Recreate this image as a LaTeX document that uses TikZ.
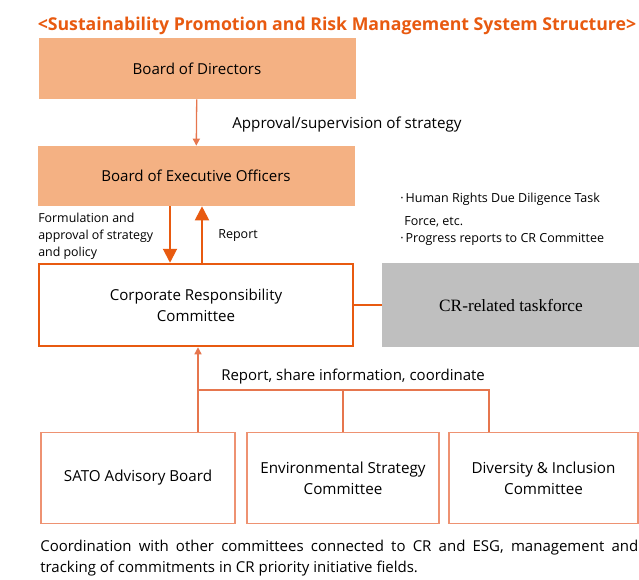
\documentclass[tikz,border=0pt]{standalone}
\usepackage{fontspec}
\setmainfont{Open Sans}
\newfontfamily\taskfont{Liberation Serif}
\usetikzlibrary{arrows.meta, positioning}

\definecolor{salmon}{HTML}{F4B183}
\definecolor{crorange}{HTML}{E85A10}
\definecolor{linkorange}{HTML}{E6764E}
\definecolor{unitorange}{HTML}{EE9272}
\definecolor{taskgray}{HTML}{BFBFBF}

\begin{document}
\begin{tikzpicture}[x=1pt,y=-1pt,>=Triangle,semithick,inner sep=0pt]
		\tikzstyle{board}=[fill=salmon,draw=none,minimum width=317pt,minimum height=60pt,font=\fontsize{15.1}{18}\selectfont]
		\tikzstyle{crbox}=[draw=crorange,line width=2.5pt,fill=white,minimum width=314pt,minimum height=82pt,align=center,font=\fontsize{15.1}{21}\selectfont]
		\tikzstyle{unit}=[draw=unitorange,line width=1.2pt,minimum height=91pt,align=center,font=\fontsize{15.2}{21}\selectfont]
		\tikzstyle{note}=[font=\fontsize{12.5}{17}\selectfont,align=left]
		\tikzstyle{thin arrow}=[->,draw=linkorange,line width=1.3pt,>={Triangle[width=7pt,length=7pt]}]
		\tikzstyle{thick arrow}=[->,draw=crorange,line width=2pt,>={Triangle[width=14pt,length=14pt]}]
		\tikzstyle{link}=[draw=linkorange,line width=1.5pt]
		
		\useasboundingbox (0,0) rectangle (639,579);
		
		\node[font=\fontsize{17.7}{20}\selectfont\bfseries,text=crorange] (title) at (337,26)
			{<Sustainability Promotion and Risk Management System Structure>};
		
		\node[board,minimum height=61pt] (bod) at (197,68.5) {Board of Directors};
		\node[board] (beo) at (196,176) {Board of Executive Officers};
		\node[crbox] (crc) at (196,305) {Corporate Responsibility\\Committee};
		\node[fill=taskgray,minimum width=258pt,minimum height=84pt,font=\taskfont\fontsize{17.3}{20}\selectfont] (task) at (511,305) {CR-related taskforce};
		
		\node[unit,minimum width=194pt] (sato) at (138,478) {SATO Advisory Board};
		\node[unit,minimum width=192pt] (env) at (343,478) {Environmental Strategy\\Committee};
		\node[unit,minimum width=189pt] (div) at (543.5,478) {Diversity \& Inclusion\\Committee};
		
		% labels
		\node[anchor=west,font=\fontsize{15.2}{18}\selectfont] (approve) at (232,125) {Approval/supervision of strategy};
		\node[note,anchor=north west,font=\fontsize{12.4}{17}\selectfont] (form) at (38,212.5) {Formulation and\\approval of strategy\\and policy};
		\node[note,anchor=west] (report) at (218,236) {Report};
		\node[note,anchor=north west] (tasknote) at (400,193)
			{·\,Human Rights Due Diligence Task\\[6pt]\hspace{4pt}Force, etc.\\·\,Progress reports to CR Committee};
		\node[anchor=west,font=\fontsize{15}{18}\selectfont] (share) at (221,377) {Report, share information, coordinate};
		\node[anchor=north west,text width=598pt,align=justify,font=\fontsize{15}{21}\selectfont] (coord) at (40,540)
			{Coordination with other committees connected to CR and ESG, management and\linebreak tracking of commitments in CR priority initiative fields.};
		
		% connectors
		\coordinate (join) at (198,390);
		\coordinate (joinr) at (489,390);
		\draw[thin arrow] (bod) -- (beo);
		\draw[thick arrow] ([xshift=-26pt]beo.south) -- ([xshift=-26pt]crc.north);
		\draw[thick arrow] ([xshift=6pt]crc.north) -- ([xshift=6pt]beo.south);
		\draw[crorange,line width=2pt] (crc) -- (task);
		\draw[link] (sato.north -| join) -- (join) -- (joinr) -- (div.north -| joinr);
		\draw[link] (env.north) -- (env.north |- join);
		\draw[thin arrow] (join) -- (crc.south -| join);
	\end{tikzpicture}
\end{document}
